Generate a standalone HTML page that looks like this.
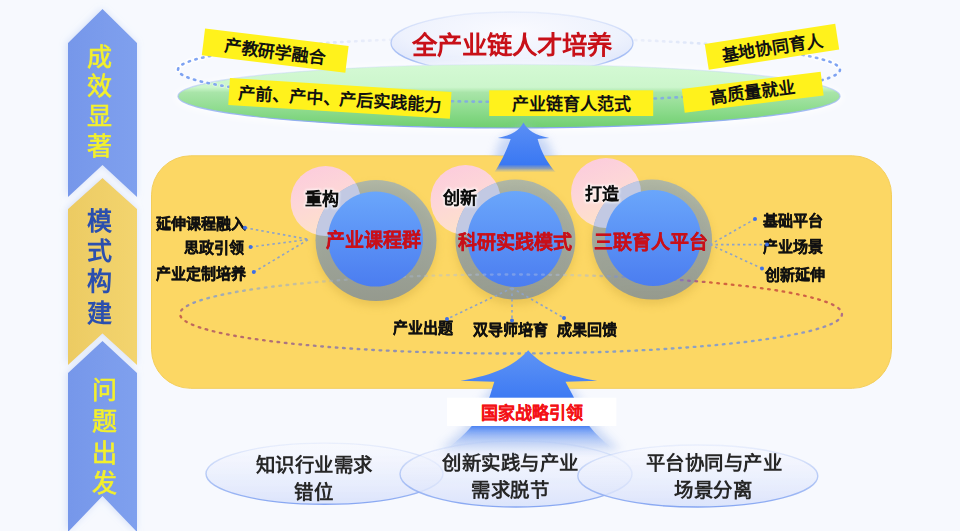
<!DOCTYPE html>
<html lang="zh-CN">
<head>
<meta charset="utf-8">
<style>
html,body{margin:0;padding:0;width:960px;height:531px;overflow:hidden;background:#f7f9fe;}
body{font-family:"Liberation Sans",sans-serif;}
svg{position:absolute;left:0;top:0;display:block;filter:blur(0.6px);}
text{font-family:"Liberation Sans",sans-serif;}
.b{font-weight:700;}
</style>
</head>
<body>
<svg width="960" height="531" viewBox="0 0 960 531">
<defs>
  <filter id="glow" x="-30%" y="-10%" width="160%" height="120%">
    <feGaussianBlur in="SourceAlpha" stdDeviation="3.5"/>
    <feOffset dx="-1" dy="0" result="b"/>
    <feFlood flood-color="#c6d6f6" flood-opacity="0.75"/>
    <feComposite in2="b" operator="in"/>
    <feMerge><feMergeNode/><feMergeNode in="SourceGraphic"/></feMerge>
  </filter>
  <linearGradient id="gGreen" x1="0" y1="0" x2="0" y2="1">
    <stop offset="0" stop-color="#d4f9d4"/>
    <stop offset="0.36" stop-color="#ccf6cc"/>
    <stop offset="0.44" stop-color="#a9e5a9"/>
    <stop offset="0.7" stop-color="#8fdc8f"/>
    <stop offset="1" stop-color="#70cf70"/>
  </linearGradient>
  <radialGradient id="gTitle" cx="0.5" cy="0.3" r="0.75">
    <stop offset="0" stop-color="#f9faff"/>
    <stop offset="0.6" stop-color="#eef2fd"/>
    <stop offset="1" stop-color="#d9e2fa"/>
  </radialGradient>
  <linearGradient id="gBlue" x1="0" y1="0" x2="0" y2="1">
    <stop offset="0" stop-color="#6aa6fb"/>
    <stop offset="1" stop-color="#4b7df0"/>
  </linearGradient>
  <linearGradient id="gPink" x1="0.15" y1="0" x2="0.55" y2="1">
    <stop offset="0" stop-color="#fccbdd"/>
    <stop offset="0.45" stop-color="#fdd6d8"/>
    <stop offset="1" stop-color="#fde3c8"/>
  </linearGradient>
  <linearGradient id="gArrowTop" x1="0" y1="0" x2="0" y2="1">
    <stop offset="0" stop-color="#5b8ff5"/>
    <stop offset="0.84" stop-color="#3a78f3"/>
    <stop offset="0.92" stop-color="#5f88d8" stop-opacity="0.7"/>
    <stop offset="1" stop-color="#8aa0c0" stop-opacity="0"/>
  </linearGradient>
  <filter id="aglow" x="-50%" y="-50%" width="200%" height="200%"><feGaussianBlur stdDeviation="5"/></filter>
  <linearGradient id="gArrowBot" x1="0" y1="0" x2="0" y2="1">
    <stop offset="0" stop-color="#5f94f5"/>
    <stop offset="0.5" stop-color="#3d7af3"/>
    <stop offset="0.78" stop-color="#4a82f3" stop-opacity="0.95"/>
    <stop offset="0.9" stop-color="#8cb0f5" stop-opacity="0.5"/>
    <stop offset="1" stop-color="#c0d2f8" stop-opacity="0"/>
  </linearGradient>
  <linearGradient id="gEll" x1="0" y1="0" x2="0" y2="1">
    <stop offset="0" stop-color="#f8f9fe" stop-opacity="0.6"/>
    <stop offset="1" stop-color="#d8e1fb" stop-opacity="0.88"/>
  </linearGradient>
  <linearGradient id="gRedBlueL" x1="0" y1="0" x2="1" y2="0">
    <stop offset="0" stop-color="#c85a4a"/>
    <stop offset="1" stop-color="#7f96c8"/>
  </linearGradient>
  <linearGradient id="gRing" x1="0" y1="0" x2="0" y2="1">
    <stop offset="0" stop-color="rgb(132,165,205)" stop-opacity="0.62"/>
    <stop offset="1" stop-color="rgb(134,146,152)" stop-opacity="0.85"/>
  </linearGradient>
  <filter id="shadow" x="-30%" y="-30%" width="160%" height="160%"><feGaussianBlur stdDeviation="4"/></filter>
  <linearGradient id="gEllStroke" x1="0" y1="0" x2="0" y2="1">
    <stop offset="0" stop-color="#c8d6f8" stop-opacity="0.3"/>
    <stop offset="0.5" stop-color="#a9c0f4" stop-opacity="0.8"/>
    <stop offset="1" stop-color="#86a6f2"/>
  </linearGradient>
  <linearGradient id="gChevB" x1="0" y1="0" x2="1" y2="0">
    <stop offset="0" stop-color="#7697ea"/>
    <stop offset="1" stop-color="#7fa0ee"/>
  </linearGradient>
  <linearGradient id="gChevY" x1="0" y1="0" x2="1" y2="0">
    <stop offset="0" stop-color="#eccb63"/>
    <stop offset="1" stop-color="#f3d46e"/>
  </linearGradient>
  <filter id="tglow" x="-20%" y="-30%" width="140%" height="160%">
    <feMorphology in="SourceAlpha" operator="dilate" radius="1.2"/>
    <feGaussianBlur stdDeviation="1.2" result="d"/>
    <feFlood flood-color="#ffffff" flood-opacity="0.75"/>
    <feComposite in2="d" operator="in"/>
    <feMerge><feMergeNode/><feMergeNode in="SourceGraphic"/></feMerge>
  </filter>
</defs>

<!-- LEFT CHEVRONS -->
<g filter="url(#glow)">
  <polygon points="68,43 102.5,9 137,43 137,197 102.5,165 68,197" fill="url(#gChevB)"/>
  <polygon points="68,209 102.5,178 137,209 137,365 102.5,333.5 68,365" fill="url(#gChevY)"/>
  <polygon points="68,373 102.5,341 137,373 137,532 102.5,496 68,532" fill="url(#gChevB)"/>
</g>
<g font-size="25" fill="#f3f02c" stroke="#f3f02c" stroke-width="0.6" text-anchor="middle">
  <text x="99.3" y="66">成</text>
  <text x="99.3" y="94.6">效</text>
  <text x="99.3" y="125">显</text>
  <text x="99.3" y="154.5">著</text>
</g>
<g font-size="25" class="b" fill="#2b4fae" text-anchor="middle">
  <text x="99.2" y="229.8">模</text>
  <text x="99.2" y="259.5">式</text>
  <text x="99.2" y="290.4">构</text>
  <text x="99.2" y="322">建</text>
</g>
<g font-size="25" fill="#f3f02c" stroke="#f3f02c" stroke-width="0.6" text-anchor="middle">
  <text x="104.4" y="399">问</text>
  <text x="104.4" y="430.4">题</text>
  <text x="104.4" y="462">出</text>
  <text x="104.4" y="491.7">发</text>
</g>

<!-- TOP SECTION -->
<g stroke-width="2.6" stroke-linecap="round" fill="none"><path d="M178.0,69.7L178.3,68.3M182.3,64.5L183.5,63.9M188.7,61.6L190.0,61.1M195.3,59.5L196.7,59.1M202.1,57.7L203.5,57.4M208.9,56.2L210.3,55.9M809.1,56.2L810.5,56.5M815.9,57.7L817.3,58.0M822.7,59.5L824.1,59.9M829.4,61.6L830.7,62.1M835.7,64.5L836.9,65.3" stroke="#ffffff" stroke-width="5.5" stroke-linecap="round" opacity="0.85" fill="none"/><path d="M178.0,69.7L178.3,68.3" stroke="rgb(122,160,242)"/><path d="M182.3,64.5L183.5,63.9" stroke="rgb(122,160,242)" stroke-opacity="0.98"/><path d="M188.7,61.6L190.0,61.1" stroke="rgb(122,160,242)" stroke-opacity="0.96"/><path d="M195.3,59.5L196.7,59.1" stroke="rgb(122,160,242)" stroke-opacity="0.95"/><path d="M202.1,57.7L203.5,57.4" stroke="rgb(124,162,242)" stroke-opacity="0.91"/><path d="M208.9,56.2L210.3,55.9" stroke="rgb(128,164,242)" stroke-opacity="0.85"/><path d="M215.8,54.8L217.2,54.6" stroke="rgb(131,166,241)" stroke-opacity="0.80"/><path d="M222.7,53.6L224.1,53.4" stroke="rgb(133,168,241)" stroke-opacity="0.75"/><path d="M229.6,52.5L231.0,52.3" stroke="rgb(136,170,241)" stroke-opacity="0.70"/><path d="M236.5,51.5L238.0,51.3" stroke="rgb(138,172,241)" stroke-opacity="0.66"/><path d="M243.5,50.5L244.9,50.4" stroke="rgb(141,173,241)" stroke-opacity="0.62"/><path d="M250.4,49.7L251.8,49.5" stroke="rgb(143,175,241)" stroke-opacity="0.58"/><path d="M257.4,48.8L258.8,48.7" stroke="rgb(145,176,240)" stroke-opacity="0.54"/><path d="M264.3,48.1L265.7,47.9" stroke="rgb(147,178,240)" stroke-opacity="0.50"/><path d="M271.3,47.4L272.7,47.2" stroke="rgb(149,179,240)" stroke-opacity="0.47"/><path d="M278.3,46.7L279.7,46.6" stroke="rgb(152,181,240)" stroke-opacity="0.44"/><path d="M285.2,46.0L286.6,45.9" stroke="rgb(155,183,240)" stroke-opacity="0.43"/><path d="M292.2,45.4L293.6,45.3" stroke="rgb(158,185,240)" stroke-opacity="0.41"/><path d="M299.2,44.9L300.6,44.8" stroke="rgb(161,187,240)" stroke-opacity="0.39"/><path d="M306.2,44.3L307.6,44.2" stroke="rgb(164,189,240)" stroke-opacity="0.38"/><path d="M313.2,43.8L314.5,43.7" stroke="rgb(167,190,240)" stroke-opacity="0.36"/><path d="M320.1,43.3L321.6,43.2" stroke="rgb(170,192,240)" stroke-opacity="0.35"/><path d="M327.1,42.9L328.5,42.8" stroke="rgb(173,194,240)" stroke-opacity="0.33"/><path d="M334.1,42.4L335.5,42.4" stroke="rgb(176,196,240)" stroke-opacity="0.32"/><path d="M341.1,42.0L342.5,42.0" stroke="rgb(179,197,240)" stroke-opacity="0.30"/><path d="M348.1,41.6L349.5,41.6" stroke="rgb(182,199,240)" stroke-opacity="0.29"/><path d="M355.1,41.3L356.5,41.2" stroke="rgb(185,201,240)" stroke-opacity="0.28"/><path d="M362.1,40.9L363.5,40.9" stroke="rgb(187,202,240)" stroke-opacity="0.26"/><path d="M369.1,40.6L370.5,40.5" stroke="rgb(190,204,240)" stroke-opacity="0.25"/><path d="M376.1,40.3L377.4,40.2" stroke="rgb(193,206,240)" stroke-opacity="0.24"/><path d="M383.1,40.0L384.4,40.0" stroke="rgb(195,207,240)" stroke-opacity="0.22"/><path d="M390.1,39.7L391.4,39.7" stroke="rgb(198,209,240)" stroke-opacity="0.21"/><path d="M397.1,39.5L398.4,39.4" stroke="rgb(200,210,240)" stroke-opacity="0.20"/><path d="M404.0,39.3L405.4,39.2" stroke="rgb(200,210,240)" stroke-opacity="0.20"/><path d="M411.1,39.0L412.5,39.0" stroke="rgb(200,210,240)" stroke-opacity="0.19"/><path d="M418.1,38.8L419.5,38.8" stroke="rgb(200,210,240)" stroke-opacity="0.19"/><path d="M425.1,38.6L426.5,38.6" stroke="rgb(200,210,240)" stroke-opacity="0.19"/><path d="M432.0,38.5L433.4,38.4" stroke="rgb(200,210,240)" stroke-opacity="0.18"/><path d="M439.0,38.3L440.5,38.3" stroke="rgb(200,210,240)" stroke-opacity="0.18"/><path d="M446.1,38.2L447.5,38.2" stroke="rgb(200,210,240)" stroke-opacity="0.18"/><path d="M453.0,38.1L454.4,38.0" stroke="rgb(200,210,240)" stroke-opacity="0.17"/><path d="M460.1,38.0L461.4,37.9" stroke="rgb(200,210,240)" stroke-opacity="0.17"/><path d="M467.0,37.9L468.4,37.8" stroke="rgb(200,210,240)" stroke-opacity="0.17"/><path d="M474.0,37.8L475.5,37.8" stroke="rgb(200,210,240)" stroke-opacity="0.17"/><path d="M481.1,37.7L482.4,37.7" stroke="rgb(200,210,240)" stroke-opacity="0.16"/><path d="M488.0,37.7L489.5,37.7" stroke="rgb(200,210,240)" stroke-opacity="0.16"/><path d="M495.1,37.6L496.4,37.6" stroke="rgb(200,210,240)" stroke-opacity="0.16"/><path d="M502.0,37.6L503.5,37.6" stroke="rgb(200,210,240)" stroke-opacity="0.15"/><path d="M509.1,37.6L510.5,37.6" stroke="rgb(200,210,240)" stroke-opacity="0.15"/><path d="M516.1,37.6L517.4,37.6" stroke="rgb(200,210,240)" stroke-opacity="0.15"/><path d="M523.0,37.6L524.5,37.6" stroke="rgb(200,210,240)" stroke-opacity="0.16"/><path d="M530.1,37.7L531.4,37.7" stroke="rgb(200,210,240)" stroke-opacity="0.16"/><path d="M537.0,37.7L538.5,37.7" stroke="rgb(200,210,240)" stroke-opacity="0.16"/><path d="M544.1,37.8L545.4,37.8" stroke="rgb(200,210,240)" stroke-opacity="0.17"/><path d="M551.1,37.9L552.4,37.9" stroke="rgb(200,210,240)" stroke-opacity="0.17"/><path d="M558.0,38.0L559.4,38.0" stroke="rgb(200,210,240)" stroke-opacity="0.17"/><path d="M565.1,38.1L566.4,38.1" stroke="rgb(200,210,240)" stroke-opacity="0.17"/><path d="M572.0,38.2L573.5,38.2" stroke="rgb(200,210,240)" stroke-opacity="0.18"/><path d="M579.1,38.3L580.5,38.4" stroke="rgb(200,210,240)" stroke-opacity="0.18"/><path d="M586.1,38.5L587.5,38.5" stroke="rgb(200,210,240)" stroke-opacity="0.18"/><path d="M593.0,38.7L594.4,38.7" stroke="rgb(200,210,240)" stroke-opacity="0.19"/><path d="M600.0,38.8L601.4,38.9" stroke="rgb(200,210,240)" stroke-opacity="0.19"/><path d="M607.0,39.0L608.4,39.1" stroke="rgb(200,210,240)" stroke-opacity="0.19"/><path d="M614.0,39.3L615.4,39.3" stroke="rgb(200,210,240)" stroke-opacity="0.20"/><path d="M621.0,39.5L622.4,39.5" stroke="rgb(200,210,240)" stroke-opacity="0.20"/><path d="M628.0,39.7L629.4,39.8" stroke="rgb(198,209,240)" stroke-opacity="0.21"/><path d="M635.0,40.0L636.4,40.1" stroke="rgb(195,207,240)" stroke-opacity="0.22"/><path d="M642.0,40.3L643.4,40.4" stroke="rgb(193,206,240)" stroke-opacity="0.24"/><path d="M649.0,40.6L650.4,40.7" stroke="rgb(190,204,240)" stroke-opacity="0.25"/><path d="M656.0,40.9L657.4,41.0" stroke="rgb(187,202,240)" stroke-opacity="0.26"/><path d="M663.0,41.3L664.4,41.4" stroke="rgb(185,201,240)" stroke-opacity="0.28"/><path d="M670.0,41.7L671.4,41.7" stroke="rgb(182,199,240)" stroke-opacity="0.29"/><path d="M677.0,42.0L678.4,42.1" stroke="rgb(179,197,240)" stroke-opacity="0.30"/><path d="M684.0,42.5L685.4,42.5" stroke="rgb(176,196,240)" stroke-opacity="0.32"/><path d="M691.0,42.9L692.4,43.0" stroke="rgb(173,194,240)" stroke-opacity="0.33"/><path d="M698.0,43.3L699.3,43.4" stroke="rgb(170,192,240)" stroke-opacity="0.35"/><path d="M704.9,43.8L706.3,43.9" stroke="rgb(167,190,240)" stroke-opacity="0.36"/><path d="M711.9,44.3L713.3,44.4" stroke="rgb(164,189,240)" stroke-opacity="0.38"/><path d="M718.9,44.9L720.3,45.0" stroke="rgb(161,187,240)" stroke-opacity="0.39"/><path d="M725.9,45.4L727.3,45.6" stroke="rgb(158,185,240)" stroke-opacity="0.41"/><path d="M732.8,46.1L734.2,46.2" stroke="rgb(155,183,240)" stroke-opacity="0.43"/><path d="M739.8,46.7L741.2,46.8" stroke="rgb(152,181,240)" stroke-opacity="0.44"/><path d="M746.8,47.4L748.1,47.5" stroke="rgb(149,179,240)" stroke-opacity="0.47"/><path d="M753.7,48.1L755.1,48.2" stroke="rgb(147,178,240)" stroke-opacity="0.50"/><path d="M760.7,48.9L762.1,49.0" stroke="rgb(145,176,240)" stroke-opacity="0.54"/><path d="M767.6,49.7L769.0,49.8" stroke="rgb(143,175,241)" stroke-opacity="0.58"/><path d="M774.6,50.5L776.0,50.7" stroke="rgb(141,173,241)" stroke-opacity="0.62"/><path d="M781.5,51.5L782.9,51.7" stroke="rgb(138,172,241)" stroke-opacity="0.66"/><path d="M788.4,52.5L789.8,52.7" stroke="rgb(136,170,241)" stroke-opacity="0.70"/><path d="M795.4,53.6L796.7,53.8" stroke="rgb(133,168,241)" stroke-opacity="0.75"/><path d="M802.3,54.8L803.6,55.1" stroke="rgb(131,166,241)" stroke-opacity="0.80"/><path d="M809.1,56.2L810.5,56.5" stroke="rgb(128,164,242)" stroke-opacity="0.85"/><path d="M815.9,57.7L817.3,58.0" stroke="rgb(124,162,242)" stroke-opacity="0.91"/><path d="M822.7,59.5L824.1,59.9" stroke="rgb(122,160,242)" stroke-opacity="0.95"/><path d="M829.4,61.6L830.7,62.1" stroke="rgb(122,160,242)" stroke-opacity="0.96"/><path d="M835.7,64.5L836.9,65.3" stroke="rgb(122,160,242)" stroke-opacity="0.98"/></g>
<ellipse cx="512" cy="43" rx="121" ry="31" fill="url(#gTitle)" stroke="url(#gEllStroke)" stroke-width="1.3"/>
<text x="512.3" y="54" font-size="25.4" class="b" fill="#c81018" text-anchor="middle">全产业链人才培养</text>
<ellipse cx="509" cy="97.5" rx="334" ry="34" fill="#ffffff" opacity="0.9" filter="url(#shadow)"/>
<ellipse cx="509" cy="96.2" rx="331" ry="31.8" fill="url(#gGreen)" stroke="url(#gEllStroke)" stroke-width="1.2"/>

<!-- dotted connectors on green -->
<g stroke-width="2.6" stroke-linecap="round" fill="none"><path d="M840.0,69.7L839.7,71.1M835.7,74.9L834.5,75.5M829.3,77.8L828.0,78.3M822.7,79.9L821.3,80.3M815.9,81.7L814.5,82.0M809.1,83.2L807.7,83.5M802.2,84.6L800.8,84.8M795.3,85.8L793.9,86.0M788.4,86.9L787.0,87.1M781.5,87.9L780.0,88.1M774.5,88.9L773.1,89.0M767.6,89.7L766.2,89.9M250.4,89.7L249.0,89.6M243.4,88.9L242.0,88.7M236.5,87.9L235.1,87.7M229.6,86.9L228.2,86.7M222.6,85.8L221.3,85.6M215.7,84.6L214.4,84.3M208.9,83.2L207.5,82.9M202.1,81.7L200.7,81.4M195.3,79.9L193.9,79.5M188.6,77.8L187.3,77.3M182.3,74.9L181.1,74.1" stroke="#ffffff" stroke-width="4.5" stroke-linecap="round" opacity="0.30" fill="none"/><path d="M840.0,69.7L839.7,71.1" stroke="rgb(122,160,242)"/><path d="M835.7,74.9L834.5,75.5" stroke="rgb(122,160,242)" stroke-opacity="0.98"/><path d="M829.3,77.8L828.0,78.3" stroke="rgb(122,160,242)" stroke-opacity="0.97"/><path d="M822.7,79.9L821.3,80.3" stroke="rgb(122,160,242)" stroke-opacity="0.96"/><path d="M815.9,81.7L814.5,82.0" stroke="rgb(122,160,242)" stroke-opacity="0.96"/><path d="M809.1,83.2L807.7,83.5" stroke="rgb(122,160,242)" stroke-opacity="0.95"/><path d="M802.2,84.6L800.8,84.8" stroke="rgb(123,161,241)" stroke-opacity="0.92"/><path d="M795.3,85.8L793.9,86.0" stroke="rgb(123,161,241)" stroke-opacity="0.90"/><path d="M788.4,86.9L787.0,87.1" stroke="rgb(123,161,240)" stroke-opacity="0.88"/><path d="M781.5,87.9L780.0,88.1" stroke="rgb(124,162,239)" stroke-opacity="0.85"/><path d="M774.5,88.9L773.1,89.0" stroke="rgb(124,162,239)" stroke-opacity="0.83"/><path d="M767.6,89.7L766.2,89.9" stroke="rgb(125,163,238)" stroke-opacity="0.81"/><path d="M760.6,90.6L759.2,90.7" stroke="rgb(125,163,238)" stroke-opacity="0.80"/><path d="M753.7,91.3L752.3,91.5" stroke="rgb(125,163,238)" stroke-opacity="0.80"/><path d="M746.7,92.0L745.3,92.2" stroke="rgb(125,163,238)" stroke-opacity="0.80"/><path d="M739.7,92.7L738.3,92.8" stroke="rgb(125,163,238)" stroke-opacity="0.80"/><path d="M732.8,93.4L731.4,93.5" stroke="rgb(125,163,238)" stroke-opacity="0.80"/><path d="M725.8,94.0L724.4,94.1" stroke="rgb(125,163,238)" stroke-opacity="0.80"/><path d="M718.8,94.5L717.4,94.6" stroke="rgb(125,163,238)" stroke-opacity="0.80"/><path d="M711.8,95.1L710.4,95.2" stroke="rgb(125,163,238)" stroke-opacity="0.80"/><path d="M704.8,95.6L703.5,95.7" stroke="rgb(125,163,238)" stroke-opacity="0.80"/><path d="M697.9,96.1L696.4,96.2" stroke="rgb(125,163,238)" stroke-opacity="0.80"/><path d="M690.9,96.5L689.5,96.6" stroke="rgb(125,163,238)" stroke-opacity="0.80"/><path d="M683.9,97.0L682.5,97.0" stroke="rgb(125,163,238)" stroke-opacity="0.80"/><path d="M676.9,97.4L675.5,97.4" stroke="rgb(125,163,238)" stroke-opacity="0.80"/><path d="M669.9,97.8L668.5,97.8" stroke="rgb(125,163,238)" stroke-opacity="0.80"/><path d="M662.9,98.1L661.5,98.2" stroke="rgb(125,163,238)" stroke-opacity="0.80"/><path d="M655.9,98.5L654.5,98.5" stroke="rgb(125,163,238)" stroke-opacity="0.80"/><path d="M648.9,98.8L647.5,98.9" stroke="rgb(125,163,238)" stroke-opacity="0.80"/><path d="M641.9,99.1L640.6,99.2" stroke="rgb(125,163,238)" stroke-opacity="0.80"/><path d="M634.9,99.4L633.6,99.4" stroke="rgb(125,163,238)" stroke-opacity="0.80"/><path d="M627.9,99.7L626.6,99.7" stroke="rgb(125,163,238)" stroke-opacity="0.80"/><path d="M620.9,99.9L619.6,100.0" stroke="rgb(125,163,238)" stroke-opacity="0.80"/><path d="M614.0,100.1L612.6,100.2" stroke="rgb(125,163,238)" stroke-opacity="0.80"/><path d="M606.9,100.4L605.5,100.4" stroke="rgb(125,163,238)" stroke-opacity="0.80"/><path d="M599.9,100.6L598.5,100.6" stroke="rgb(125,163,238)" stroke-opacity="0.80"/><path d="M592.9,100.8L591.5,100.8" stroke="rgb(125,163,238)" stroke-opacity="0.80"/><path d="M586.0,100.9L584.6,101.0" stroke="rgb(125,163,238)" stroke-opacity="0.80"/><path d="M579.0,101.1L577.5,101.1" stroke="rgb(125,163,238)" stroke-opacity="0.80"/><path d="M571.9,101.2L570.5,101.2" stroke="rgb(125,163,238)" stroke-opacity="0.80"/><path d="M565.0,101.3L563.6,101.4" stroke="rgb(125,163,238)" stroke-opacity="0.80"/><path d="M557.9,101.4L556.6,101.5" stroke="rgb(125,163,238)" stroke-opacity="0.80"/><path d="M551.0,101.5L549.6,101.6" stroke="rgb(125,163,238)" stroke-opacity="0.80"/><path d="M544.0,101.6L542.5,101.6" stroke="rgb(125,163,238)" stroke-opacity="0.80"/><path d="M536.9,101.7L535.6,101.7" stroke="rgb(125,163,238)" stroke-opacity="0.80"/><path d="M530.0,101.7L528.5,101.7" stroke="rgb(125,163,238)" stroke-opacity="0.80"/><path d="M522.9,101.8L521.6,101.8" stroke="rgb(125,163,238)" stroke-opacity="0.80"/><path d="M516.0,101.8L514.5,101.8" stroke="rgb(125,163,238)" stroke-opacity="0.80"/><path d="M508.9,101.8L507.5,101.8" stroke="rgb(125,163,238)" stroke-opacity="0.80"/><path d="M501.9,101.8L500.6,101.8" stroke="rgb(125,163,238)" stroke-opacity="0.80"/><path d="M495.0,101.8L493.5,101.8" stroke="rgb(125,163,238)" stroke-opacity="0.80"/><path d="M487.9,101.7L486.6,101.7" stroke="rgb(125,163,238)" stroke-opacity="0.80"/><path d="M481.0,101.7L479.5,101.7" stroke="rgb(125,163,238)" stroke-opacity="0.80"/><path d="M473.9,101.6L472.6,101.6" stroke="rgb(125,163,238)" stroke-opacity="0.80"/><path d="M466.9,101.5L465.6,101.5" stroke="rgb(125,163,238)" stroke-opacity="0.80"/><path d="M460.0,101.4L458.6,101.4" stroke="rgb(125,163,238)" stroke-opacity="0.80"/><path d="M452.9,101.3L451.6,101.3" stroke="rgb(125,163,238)" stroke-opacity="0.80"/><path d="M446.0,101.2L444.5,101.2" stroke="rgb(125,163,238)" stroke-opacity="0.80"/><path d="M438.9,101.1L437.5,101.0" stroke="rgb(125,163,238)" stroke-opacity="0.80"/><path d="M431.9,100.9L430.5,100.9" stroke="rgb(125,163,238)" stroke-opacity="0.80"/><path d="M425.0,100.7L423.6,100.7" stroke="rgb(125,163,238)" stroke-opacity="0.80"/><path d="M418.0,100.6L416.6,100.5" stroke="rgb(125,163,238)" stroke-opacity="0.80"/><path d="M411.0,100.4L409.6,100.3" stroke="rgb(125,163,238)" stroke-opacity="0.80"/><path d="M404.0,100.1L402.6,100.1" stroke="rgb(125,163,238)" stroke-opacity="0.80"/><path d="M397.0,99.9L395.6,99.9" stroke="rgb(125,163,238)" stroke-opacity="0.80"/><path d="M390.0,99.7L388.6,99.6" stroke="rgb(125,163,238)" stroke-opacity="0.80"/><path d="M383.0,99.4L381.6,99.3" stroke="rgb(125,163,238)" stroke-opacity="0.80"/><path d="M376.0,99.1L374.6,99.0" stroke="rgb(125,163,238)" stroke-opacity="0.80"/><path d="M369.0,98.8L367.6,98.7" stroke="rgb(125,163,238)" stroke-opacity="0.80"/><path d="M362.0,98.5L360.6,98.4" stroke="rgb(125,163,238)" stroke-opacity="0.80"/><path d="M355.0,98.1L353.6,98.0" stroke="rgb(125,163,238)" stroke-opacity="0.80"/><path d="M348.0,97.7L346.6,97.7" stroke="rgb(125,163,238)" stroke-opacity="0.80"/><path d="M341.0,97.4L339.6,97.3" stroke="rgb(125,163,238)" stroke-opacity="0.80"/><path d="M334.0,96.9L332.6,96.9" stroke="rgb(125,163,238)" stroke-opacity="0.80"/><path d="M327.0,96.5L325.6,96.4" stroke="rgb(125,163,238)" stroke-opacity="0.80"/><path d="M320.0,96.1L318.7,96.0" stroke="rgb(125,163,238)" stroke-opacity="0.80"/><path d="M313.1,95.6L311.7,95.5" stroke="rgb(125,163,238)" stroke-opacity="0.80"/><path d="M306.1,95.1L304.7,95.0" stroke="rgb(125,163,238)" stroke-opacity="0.80"/><path d="M299.1,94.5L297.7,94.4" stroke="rgb(125,163,238)" stroke-opacity="0.80"/><path d="M292.1,94.0L290.7,93.8" stroke="rgb(125,163,238)" stroke-opacity="0.80"/><path d="M285.2,93.3L283.8,93.2" stroke="rgb(125,163,238)" stroke-opacity="0.80"/><path d="M278.2,92.7L276.8,92.6" stroke="rgb(125,163,238)" stroke-opacity="0.80"/><path d="M271.2,92.0L269.9,91.9" stroke="rgb(125,163,238)" stroke-opacity="0.80"/><path d="M264.3,91.3L262.9,91.2" stroke="rgb(125,163,238)" stroke-opacity="0.80"/><path d="M257.3,90.5L255.9,90.4" stroke="rgb(125,163,238)" stroke-opacity="0.80"/><path d="M250.4,89.7L249.0,89.6" stroke="rgb(125,163,238)" stroke-opacity="0.81"/><path d="M243.4,88.9L242.0,88.7" stroke="rgb(124,162,239)" stroke-opacity="0.83"/><path d="M236.5,87.9L235.1,87.7" stroke="rgb(124,162,239)" stroke-opacity="0.85"/><path d="M229.6,86.9L228.2,86.7" stroke="rgb(123,161,240)" stroke-opacity="0.88"/><path d="M222.6,85.8L221.3,85.6" stroke="rgb(123,161,241)" stroke-opacity="0.90"/><path d="M215.7,84.6L214.4,84.3" stroke="rgb(123,161,241)" stroke-opacity="0.92"/><path d="M208.9,83.2L207.5,82.9" stroke="rgb(122,160,242)" stroke-opacity="0.95"/><path d="M202.1,81.7L200.7,81.4" stroke="rgb(122,160,242)" stroke-opacity="0.96"/><path d="M195.3,79.9L193.9,79.5" stroke="rgb(122,160,242)" stroke-opacity="0.96"/><path d="M188.6,77.8L187.3,77.3" stroke="rgb(122,160,242)" stroke-opacity="0.97"/><path d="M182.3,74.9L181.1,74.1" stroke="rgb(122,160,242)" stroke-opacity="0.98"/></g>

<!-- labels -->
<g transform="translate(275.2,50.7) rotate(6.97)">
  <rect x="-72.3" y="-13.5" width="144.6" height="27" fill="#fff21c"/>
  <text x="0" y="7" font-size="17" class="b" fill="#111" text-anchor="middle">产教研学融合</text>
</g>
<g transform="translate(339.9,98.4) rotate(3.6)">
  <rect x="-111" y="-13.5" width="222" height="27" fill="#fff21c"/>
  <text x="0" y="6.8" font-size="17" class="b" fill="#111" text-anchor="middle">产前、产中、产后实践能力</text>
</g>
<g transform="translate(571.2,103.1)">
  <rect x="-82" y="-12.8" width="164" height="25.7" fill="#fff21c"/>
  <text x="0" y="7.2" font-size="17" class="b" fill="#111" text-anchor="middle">产业链育人范式</text>
</g>
<g transform="translate(772,46.8) rotate(-8.8)">
  <rect x="-66" y="-13" width="132" height="26" fill="#fff21c"/>
  <text x="0" y="7" font-size="17" class="b" fill="#111" text-anchor="middle">基地协同育人</text>
</g>
<g transform="translate(752.7,92.3) rotate(-7.1)">
  <rect x="-70" y="-12" width="140" height="24" fill="#fff21c"/>
  <text x="0" y="6" font-size="17" class="b" fill="#111" text-anchor="middle">高质量就业</text>
</g>

<!-- MIDDLE PANEL -->
<rect x="151.5" y="155.8" width="740" height="232.5" rx="39" ry="39" fill="#fcd764" stroke="#f3cd5a" stroke-width="1"/>

<!-- top arrow -->
<clipPath id="cpBand"><rect x="400" y="120" width="250" height="36"/></clipPath>
<g clip-path="url(#cpBand)"><path d="M523.5,126 L500,140 L490,172 L560,172 L547,140 Z" fill="#a8c0f0" opacity="0.6" filter="url(#aglow)"/></g>
<path d="M523.5,122.6 C519,131 512,135 497.8,138 L510.7,139 C506,152 500,164 494.2,172.5 L556,172.5 C548,164 541,152 537.6,139 L549.2,138 C535,135 528,131 523.5,122.6 Z" fill="url(#gArrowTop)"/>

<!-- circle groups -->
<clipPath id="cpa"><circle cx="325.6" cy="201" r="35"/></clipPath>
<circle cx="376" cy="245.5" r="60.5" fill="#c9a33a" opacity="0.35" filter="url(#shadow)"/>
<circle cx="325.6" cy="201" r="35" fill="url(#gPink)"/>
<circle cx="376" cy="240.5" r="60.5" fill="url(#gRing)"/>
<circle cx="376" cy="240.5" r="60.5" fill="#c2c9e3" clip-path="url(#cpa)"/>
<clipPath id="cpc"><circle cx="606" cy="193" r="35"/></clipPath>
<circle cx="652" cy="244.6" r="60" fill="#c9a33a" opacity="0.35" filter="url(#shadow)"/>
<circle cx="606" cy="193" r="35" fill="url(#gPink)"/>
<circle cx="652" cy="239.6" r="60" fill="url(#gRing)"/>
<circle cx="652" cy="239.6" r="60" fill="#c2c9e3" clip-path="url(#cpc)"/>
<clipPath id="cpb"><circle cx="465.5" cy="200" r="35"/></clipPath>
<circle cx="515.4" cy="244.6" r="60" fill="#c9a33a" opacity="0.35" filter="url(#shadow)"/>
<circle cx="465.5" cy="200" r="35" fill="url(#gPink)"/>
<circle cx="515.4" cy="239.6" r="60" fill="url(#gRing)"/>
<circle cx="515.4" cy="239.6" r="60" fill="#c2c9e3" clip-path="url(#cpb)"/>
<circle cx="515.4" cy="239" r="48" fill="url(#gBlue)"/>
<text x="459.5" y="203.8" font-size="17" class="b" fill="#111" stroke="#111" stroke-width="0.45" text-anchor="middle" filter="url(#tglow)">创新</text>
<text x="515.3" y="249.3" font-size="19" class="b" fill="#c8101a" stroke="#c8101a" stroke-width="0.25" text-anchor="middle">科研实践模式</text>
<g stroke-width="2.3" stroke-linecap="round" fill="none"><path d="M842.0,314.0L841.7,315.7" stroke="rgb(176,112,135)"/><path d="M838.2,320.0L836.8,321.0" stroke="rgb(161,128,161)"/><path d="M831.9,323.7L830.4,324.4" stroke="rgb(151,138,178)"/><path d="M825.2,326.4L823.5,327.0" stroke="rgb(148,144,183)"/><path d="M818.2,328.7L816.6,329.2" stroke="rgb(147,148,187)"/><path d="M811.2,330.6L809.5,331.1" stroke="rgb(145,151,190)"/><path d="M804.0,332.4L802.4,332.7" stroke="rgb(144,154,193)"/><path d="M796.9,333.9L795.2,334.2" stroke="rgb(142,157,195)"/><path d="M789.7,335.3L788.1,335.6" stroke="rgb(141,159,198)"/><path d="M782.5,336.6L780.8,336.9" stroke="rgb(140,162,200)"/><path d="M775.3,337.8L773.6,338.0" stroke="rgb(140,162,200)"/><path d="M768.1,338.9L766.4,339.1" stroke="rgb(140,162,199)"/><path d="M760.8,339.9L759.1,340.1" stroke="rgb(140,162,199)"/><path d="M753.6,340.9L751.9,341.1" stroke="rgb(140,161,199)"/><path d="M746.3,341.8L744.6,342.0" stroke="rgb(140,161,199)"/><path d="M739.0,342.6L737.4,342.8" stroke="rgb(140,161,198)"/><path d="M731.8,343.4L730.1,343.6" stroke="rgb(140,161,198)"/><path d="M724.5,344.2L722.8,344.4" stroke="rgb(139,161,198)"/><path d="M717.2,344.9L715.5,345.1" stroke="rgb(139,161,198)"/><path d="M710.0,345.6L708.2,345.7" stroke="rgb(139,161,197)"/><path d="M702.7,346.2L701.0,346.3" stroke="rgb(139,161,197)"/><path d="M695.4,346.8L693.7,346.9" stroke="rgb(139,160,197)"/><path d="M688.1,347.4L686.4,347.5" stroke="rgb(139,160,197)"/><path d="M680.8,347.9L679.1,348.0" stroke="rgb(139,160,196)"/><path d="M673.5,348.4L671.8,348.5" stroke="rgb(139,160,196)"/><path d="M666.3,348.9L664.5,349.0" stroke="rgb(139,160,196)"/><path d="M658.9,349.3L657.2,349.4" stroke="rgb(139,160,196)"/><path d="M651.7,349.8L650.0,349.9" stroke="rgb(139,160,196)"/><path d="M644.4,350.2L642.6,350.2" stroke="rgb(139,160,195)"/><path d="M637.0,350.5L635.4,350.6" stroke="rgb(139,160,195)"/><path d="M629.7,350.9L628.0,351.0" stroke="rgb(139,160,195)"/><path d="M622.4,351.2L620.7,351.3" stroke="rgb(139,159,195)"/><path d="M615.1,351.5L613.4,351.6" stroke="rgb(139,159,195)"/><path d="M607.8,351.8L606.1,351.8" stroke="rgb(139,159,194)"/><path d="M600.4,352.0L598.8,352.1" stroke="rgb(139,159,194)"/><path d="M593.2,352.3L591.5,352.3" stroke="rgb(139,159,194)"/><path d="M585.8,352.5L584.2,352.5" stroke="rgb(138,159,194)"/><path d="M578.5,352.7L576.9,352.7" stroke="rgb(138,159,194)"/><path d="M571.3,352.8L569.5,352.9" stroke="rgb(138,159,194)"/><path d="M563.9,353.0L562.3,353.0" stroke="rgb(138,159,193)"/><path d="M556.6,353.1L555.0,353.2" stroke="rgb(138,159,193)"/><path d="M549.3,353.2L547.6,353.3" stroke="rgb(138,158,193)"/><path d="M542.0,353.3L540.3,353.3" stroke="rgb(138,158,193)"/><path d="M534.7,353.4L533.0,353.4" stroke="rgb(138,158,193)"/><path d="M527.4,353.5L525.7,353.5" stroke="rgb(138,158,192)"/><path d="M520.0,353.5L518.4,353.5" stroke="rgb(138,158,192)"/><path d="M512.8,353.5L511.1,353.5" stroke="rgb(138,158,192)"/><path d="M505.5,353.5L503.7,353.5" stroke="rgb(138,157,191)"/><path d="M498.1,353.5L496.4,353.5" stroke="rgb(139,157,190)"/><path d="M490.8,353.4L489.2,353.4" stroke="rgb(139,156,190)"/><path d="M483.6,353.4L481.8,353.3" stroke="rgb(140,155,189)"/><path d="M476.2,353.3L474.5,353.3" stroke="rgb(141,154,188)"/><path d="M468.9,353.2L467.2,353.2" stroke="rgb(141,153,187)"/><path d="M461.6,353.1L459.9,353.0" stroke="rgb(142,152,186)"/><path d="M454.3,352.9L452.6,352.9" stroke="rgb(142,152,185)"/><path d="M446.9,352.8L445.3,352.7" stroke="rgb(143,151,184)"/><path d="M439.7,352.6L438.0,352.5" stroke="rgb(143,150,183)"/><path d="M432.4,352.4L430.7,352.3" stroke="rgb(144,149,182)"/><path d="M425.1,352.1L423.4,352.1" stroke="rgb(144,148,181)"/><path d="M417.8,351.9L416.1,351.8" stroke="rgb(145,147,180)"/><path d="M410.5,351.6L408.7,351.6" stroke="rgb(146,147,179)"/><path d="M403.1,351.3L401.4,351.3" stroke="rgb(146,146,178)"/><path d="M395.9,351.0L394.1,351.0" stroke="rgb(147,145,177)"/><path d="M388.6,350.7L386.8,350.6" stroke="rgb(147,144,176)"/><path d="M381.3,350.3L379.5,350.3" stroke="rgb(148,143,176)"/><path d="M373.9,350.0L372.2,349.9" stroke="rgb(148,142,175)"/><path d="M366.6,349.5L364.9,349.4" stroke="rgb(149,141,174)"/><path d="M359.3,349.1L357.7,349.0" stroke="rgb(150,140,173)"/><path d="M352.1,348.6L350.4,348.5" stroke="rgb(151,139,170)"/><path d="M344.8,348.2L343.0,348.0" stroke="rgb(153,137,166)"/><path d="M337.4,347.6L335.8,347.5" stroke="rgb(155,134,161)"/><path d="M330.1,347.1L328.5,347.0" stroke="rgb(158,132,157)"/><path d="M322.9,346.5L321.2,346.4" stroke="rgb(160,129,152)"/><path d="M315.6,345.9L313.9,345.7" stroke="rgb(162,127,147)"/><path d="M308.3,345.2L306.7,345.1" stroke="rgb(165,124,143)"/><path d="M301.1,344.5L299.4,344.4" stroke="rgb(167,122,138)"/><path d="M293.7,343.8L292.1,343.6" stroke="rgb(170,119,133)"/><path d="M286.5,343.0L284.8,342.8" stroke="rgb(172,116,128)"/><path d="M279.2,342.2L277.5,342.0" stroke="rgb(175,114,123)"/><path d="M272.0,341.3L270.3,341.1" stroke="rgb(177,111,117)"/><path d="M264.7,340.4L263.1,340.2" stroke="rgb(180,108,112)"/><path d="M257.5,339.4L255.8,339.2" stroke="rgb(181,108,111)"/><path d="M250.2,338.3L248.6,338.1" stroke="rgb(182,107,109)"/><path d="M243.0,337.2L241.3,336.9" stroke="rgb(183,107,108)"/><path d="M235.8,336.0L234.2,335.7" stroke="rgb(184,107,106)"/><path d="M228.7,334.6L227.0,334.3" stroke="rgb(185,106,104)"/><path d="M221.5,333.1L219.8,332.8" stroke="rgb(186,106,102)"/><path d="M214.4,331.5L212.7,331.1" stroke="rgb(187,106,100)"/><path d="M207.3,329.7L205.6,329.2" stroke="rgb(188,105,98)"/><path d="M200.3,327.6L198.7,327.1" stroke="rgb(190,105,96)"/><path d="M193.4,325.1L191.8,324.5" stroke="rgb(191,104,93)"/><path d="M186.8,322.0L185.4,321.1" stroke="rgb(195,103,86)"/><path d="M181.2,317.4L180.4,315.9" stroke="rgb(201,101,74)"/><path d="M181.2,310.6L182.3,309.3" stroke="rgb(184,115,111)"/><path d="M186.8,306.0L188.3,305.2" stroke="rgb(159,138,160)"/><path d="M193.4,302.9L195.0,302.2" stroke="rgb(145,154,186)"/><path d="M200.3,300.4L201.9,299.9" stroke="rgb(141,161,195)" stroke-opacity="0.97"/><path d="M207.3,298.3L209.0,297.8" stroke="rgb(143,162,195)" stroke-opacity="0.93"/><path d="M214.4,296.5L216.1,296.1" stroke="rgb(144,163,195)" stroke-opacity="0.90"/><path d="M221.5,294.8L223.2,294.5" stroke="rgb(146,164,195)" stroke-opacity="0.86"/><path d="M228.7,293.4L230.4,293.1" stroke="rgb(147,165,195)" stroke-opacity="0.83"/><path d="M235.9,292.0L237.6,291.7" stroke="rgb(148,166,195)" stroke-opacity="0.80"/><path d="M243.1,290.8L244.8,290.5" stroke="rgb(149,167,195)" stroke-opacity="0.78"/><path d="M250.3,289.7L252.0,289.4" stroke="rgb(150,168,195)" stroke-opacity="0.75"/><path d="M257.6,288.6L259.2,288.4" stroke="rgb(152,169,196)" stroke-opacity="0.72"/><path d="M264.8,287.6L266.5,287.4" stroke="rgb(153,170,196)" stroke-opacity="0.69"/><path d="M272.1,286.7L273.7,286.5" stroke="rgb(155,171,197)" stroke-opacity="0.66"/><path d="M279.3,285.8L281.0,285.6" stroke="rgb(156,172,197)" stroke-opacity="0.63"/><path d="M286.5,285.0L288.2,284.8" stroke="rgb(157,173,197)" stroke-opacity="0.60"/><path d="M293.8,284.2L295.6,284.0" stroke="rgb(159,174,198)" stroke-opacity="0.58"/><path d="M301.1,283.5L302.8,283.3" stroke="rgb(160,175,198)" stroke-opacity="0.55"/><path d="M308.4,282.8L310.1,282.6" stroke="rgb(161,176,199)" stroke-opacity="0.52"/><path d="M315.7,282.1L317.4,282.0" stroke="rgb(163,176,199)" stroke-opacity="0.50"/><path d="M323.0,281.5L324.7,281.4" stroke="rgb(164,177,200)" stroke-opacity="0.48"/><path d="M330.2,280.9L332.0,280.8" stroke="rgb(165,178,200)" stroke-opacity="0.45"/><path d="M337.5,280.4L339.2,280.2" stroke="rgb(165,179,201)" stroke-opacity="0.45"/><path d="M344.8,279.8L346.6,279.7" stroke="rgb(166,179,202)" stroke-opacity="0.44"/><path d="M352.2,279.3L353.8,279.2" stroke="rgb(166,180,203)" stroke-opacity="0.44"/><path d="M359.4,278.9L361.1,278.8" stroke="rgb(167,181,204)" stroke-opacity="0.43"/><path d="M366.7,278.5L368.5,278.3" stroke="rgb(167,181,205)" stroke-opacity="0.43"/><path d="M374.0,278.0L375.7,277.9" stroke="rgb(168,182,206)" stroke-opacity="0.42"/><path d="M381.4,277.7L383.0,277.6" stroke="rgb(168,183,207)" stroke-opacity="0.42"/><path d="M388.7,277.3L390.3,277.2" stroke="rgb(169,183,208)" stroke-opacity="0.41"/><path d="M395.9,277.0L397.6,276.9" stroke="rgb(169,184,208)" stroke-opacity="0.41"/><path d="M403.2,276.7L405.0,276.6" stroke="rgb(170,185,209)" stroke-opacity="0.40"/><path d="M410.6,276.4L412.3,276.3" stroke="rgb(170,185,211)" stroke-opacity="0.40"/><path d="M417.9,276.1L419.6,276.0" stroke="rgb(171,186,213)" stroke-opacity="0.41"/><path d="M425.2,275.9L426.9,275.8" stroke="rgb(172,187,216)" stroke-opacity="0.42"/><path d="M432.5,275.6L434.1,275.6" stroke="rgb(173,188,218)" stroke-opacity="0.43"/><path d="M439.8,275.4L441.4,275.4" stroke="rgb(173,188,220)" stroke-opacity="0.43"/><path d="M447.0,275.2L448.8,275.2" stroke="rgb(174,189,223)" stroke-opacity="0.44"/><path d="M454.4,275.1L456.1,275.0" stroke="rgb(175,190,225)" stroke-opacity="0.45"/><path d="M461.7,274.9L463.4,274.9" stroke="rgb(175,190,225)" stroke-opacity="0.45"/><path d="M469.0,274.8L470.8,274.8" stroke="rgb(175,190,225)" stroke-opacity="0.45"/><path d="M476.3,274.7L478.0,274.7" stroke="rgb(175,190,225)" stroke-opacity="0.45"/><path d="M483.7,274.6L485.3,274.6" stroke="rgb(175,190,225)" stroke-opacity="0.45"/><path d="M490.9,274.6L492.6,274.6" stroke="rgb(175,190,225)" stroke-opacity="0.45"/><path d="M498.2,274.5L500.0,274.5" stroke="rgb(175,190,225)" stroke-opacity="0.45"/><path d="M505.6,274.5L507.3,274.5" stroke="rgb(175,190,225)" stroke-opacity="0.45"/><path d="M512.9,274.5L514.5,274.5" stroke="rgb(175,190,225)" stroke-opacity="0.45"/><path d="M520.1,274.5L521.9,274.5" stroke="rgb(175,190,225)" stroke-opacity="0.45"/><path d="M527.5,274.5L529.2,274.6" stroke="rgb(175,190,225)" stroke-opacity="0.45"/><path d="M534.8,274.6L536.6,274.6" stroke="rgb(175,190,225)" stroke-opacity="0.45"/><path d="M542.1,274.7L543.8,274.7" stroke="rgb(175,190,225)" stroke-opacity="0.45"/><path d="M549.4,274.8L551.1,274.8" stroke="rgb(175,190,225)" stroke-opacity="0.45"/><path d="M556.7,274.9L558.5,274.9" stroke="rgb(175,190,225)" stroke-opacity="0.45"/><path d="M564.0,275.0L565.8,275.0" stroke="rgb(175,190,225)" stroke-opacity="0.45"/><path d="M571.4,275.2L573.0,275.2" stroke="rgb(175,190,225)" stroke-opacity="0.45"/><path d="M578.6,275.3L580.4,275.4" stroke="rgb(175,190,225)" stroke-opacity="0.45"/><path d="M585.9,275.5L587.7,275.6" stroke="rgb(166,182,223)" stroke-opacity="0.47"/><path d="M593.3,275.7L595.0,275.8" stroke="rgb(156,173,220)" stroke-opacity="0.50"/><path d="M600.5,276.0L602.2,276.0" stroke="rgb(146,164,217)" stroke-opacity="0.53"/><path d="M607.9,276.2L609.6,276.3" stroke="rgb(135,154,214)" stroke-opacity="0.56"/><path d="M615.2,276.5L616.9,276.6" stroke="rgb(125,145,211)" stroke-opacity="0.59"/><path d="M622.5,276.8L624.2,276.9" stroke="rgb(120,138,210)" stroke-opacity="0.62"/><path d="M629.8,277.1L631.5,277.2" stroke="rgb(121,135,209)" stroke-opacity="0.65"/><path d="M637.1,277.5L638.8,277.6" stroke="rgb(122,132,208)" stroke-opacity="0.68"/><path d="M644.5,277.9L646.1,277.9" stroke="rgb(122,129,208)" stroke-opacity="0.71"/><path d="M651.7,278.2L653.4,278.3" stroke="rgb(123,126,207)" stroke-opacity="0.74"/><path d="M659.0,278.7L660.7,278.8" stroke="rgb(123,123,207)" stroke-opacity="0.77"/><path d="M666.3,279.1L668.0,279.2" stroke="rgb(124,120,206)" stroke-opacity="0.80"/><path d="M673.6,279.6L675.3,279.7" stroke="rgb(125,116,205)" stroke-opacity="0.84"/><path d="M680.9,280.1L682.6,280.2" stroke="rgb(135,111,189)" stroke-opacity="0.89"/><path d="M688.2,280.6L689.8,280.8" stroke="rgb(153,103,162)" stroke-opacity="0.97"/><path d="M695.5,281.2L697.1,281.3" stroke="rgb(171,100,131)"/><path d="M702.8,281.8L704.5,281.9" stroke="rgb(190,100,97)"/><path d="M710.1,282.4L711.7,282.6" stroke="rgb(210,100,63)"/><path d="M717.3,283.1L719.0,283.3" stroke="rgb(210,100,62)"/><path d="M724.6,283.8L726.3,284.0" stroke="rgb(210,100,63)"/><path d="M731.8,284.6L733.5,284.8" stroke="rgb(209,99,63)"/><path d="M739.1,285.4L740.8,285.6" stroke="rgb(209,99,64)"/><path d="M746.4,286.2L748.0,286.4" stroke="rgb(209,99,65)"/><path d="M753.6,287.1L755.3,287.4" stroke="rgb(208,99,65)"/><path d="M760.9,288.1L762.6,288.3" stroke="rgb(208,99,66)"/><path d="M768.1,289.1L769.8,289.4" stroke="rgb(208,98,66)"/><path d="M775.4,290.2L777.1,290.5" stroke="rgb(208,98,67)"/><path d="M782.6,291.4L784.2,291.7" stroke="rgb(207,98,67)"/><path d="M789.7,292.7L791.4,293.0" stroke="rgb(207,98,68)"/><path d="M797.0,294.1L798.6,294.5" stroke="rgb(207,97,69)"/><path d="M804.1,295.6L805.7,296.0" stroke="rgb(206,97,70)"/><path d="M811.2,297.4L812.8,297.8" stroke="rgb(206,97,71)"/><path d="M818.2,299.3L819.9,299.8" stroke="rgb(205,96,71)"/><path d="M825.2,301.6L826.8,302.2" stroke="rgb(203,97,77)"/><path d="M831.9,304.3L833.5,305.1" stroke="rgb(197,101,90)"/><path d="M838.2,308.0L839.5,309.2" stroke="rgb(189,105,108)"/></g>
<circle cx="375.5" cy="239" r="47.5" fill="url(#gBlue)"/>
<text x="322.2" y="205" font-size="17" class="b" fill="#111" stroke="#111" stroke-width="0.45" text-anchor="middle" filter="url(#tglow)">重构</text>
<text x="373" y="246.5" font-size="19" class="b" fill="#c8101a" stroke="#c8101a" stroke-width="0.25" text-anchor="middle">产业课程群</text>
<circle cx="653" cy="238" r="48" fill="url(#gBlue)"/>
<text x="602.1" y="199.6" font-size="17" class="b" fill="#111" stroke="#111" stroke-width="0.45" text-anchor="middle" filter="url(#tglow)">打造</text>
<text x="650.6" y="249.3" font-size="19" class="b" fill="#c8101a" stroke="#c8101a" stroke-width="0.25" text-anchor="middle">三联育人平台</text>

<!-- left labels & connectors -->
<g stroke="#8ea3c8" stroke-width="1.6" stroke-dasharray="2.5 3" fill="none">
  <line x1="245" y1="227.7" x2="308.7" y2="239.4"/>
  <line x1="250.6" y1="247" x2="308.7" y2="239.4"/>
  <line x1="253.8" y1="272.1" x2="308.7" y2="239.4"/>
  <line x1="710" y1="244.6" x2="755" y2="219"/>
  <line x1="710" y1="244.6" x2="767" y2="244.6"/>
  <line x1="710" y1="244.6" x2="762" y2="268.5"/>
  <line x1="512" y1="288" x2="447" y2="319"/>
  <line x1="512" y1="288" x2="512" y2="320.5"/>
  <line x1="512" y1="288" x2="564" y2="318"/>
</g>

<g font-size="15" class="b" fill="#111" stroke="#111" stroke-width="0.3">
  <text x="246" y="229.1" text-anchor="end">延伸课程融入</text>
  <text x="243.6" y="252.8" text-anchor="end">思政引领</text>
  <text x="246" y="278.9" text-anchor="end">产业定制培养</text>
  <text x="763" y="226.2">基础平台</text>
  <text x="763" y="252">产业场景</text>
  <text x="765" y="280.4">创新延伸</text>
  <text x="393" y="333.4">产业出题</text>
  <text x="473" y="334.8">双导师培育</text>
  <text x="557" y="334.5">成果回馈</text>
</g>
<g fill="#3e6fe6">
  <circle cx="245" cy="227.7" r="2"/><circle cx="250.6" cy="247" r="2"/><circle cx="253.8" cy="272.1" r="2"/>
  <circle cx="755" cy="219" r="2"/><circle cx="767" cy="244.6" r="2"/><circle cx="762" cy="268.5" r="2"/>
  <circle cx="447" cy="319" r="2"/><circle cx="512" cy="320.5" r="2"/><circle cx="564" cy="318" r="2"/>
</g>

<!-- BOTTOM ELLIPSES -->
<ellipse cx="324.5" cy="473.7" rx="118.5" ry="30.6" fill="url(#gEll)" stroke="url(#gEllStroke)" stroke-width="1.4"/>
<ellipse cx="516" cy="474" rx="116" ry="33" fill="url(#gEll)" stroke="url(#gEllStroke)" stroke-width="1.4"/>
<ellipse cx="697.8" cy="476" rx="120" ry="31" fill="url(#gEll)" stroke="url(#gEllStroke)" stroke-width="1.4"/>
<g font-size="19.4" class="b" fill="#262626" text-anchor="middle" letter-spacing="0.5">
  <text x="314.3" y="472.2">知识行业需求</text>
  <text x="313.6" y="498.5">错位</text>
  <text x="510.4" y="470.2">创新实践与产业</text>
  <text x="510" y="496.5">需求脱节</text>
  <text x="714" y="470.2">平台协同与产业</text>
  <text x="713.4" y="496.5">场景分离</text>
</g>

<!-- lower arrow -->
<clipPath id="cpBand2"><rect x="400" y="388.5" width="260" height="70"/></clipPath>
<g clip-path="url(#cpBand2)"><path d="M495,382 L568,382 L600,430 L620,450 L440,450 L462,430 Z" fill="#a8c0f0" opacity="0.55" filter="url(#aglow)"/></g>
<path d="M528.2,350.2 C515,365 495,375 460.4,380.7 L494.3,381.8 L489.7,396.5 C480,420 465,435 448,448 L612,448 C595,435 582,420 573.4,396.5 L565.5,381.8 L597.2,380.7 C562,375 541,365 528.2,350.2 Z" fill="url(#gArrowBot)"/>
<rect x="447" y="397.7" width="169.4" height="28.3" fill="#ffffff"/>
<text x="531.8" y="418.5" font-size="17" class="b" fill="#f41216" stroke="#f41216" stroke-width="0.2" text-anchor="middle">国家战略引领</text>

</svg>
</body>
</html>
